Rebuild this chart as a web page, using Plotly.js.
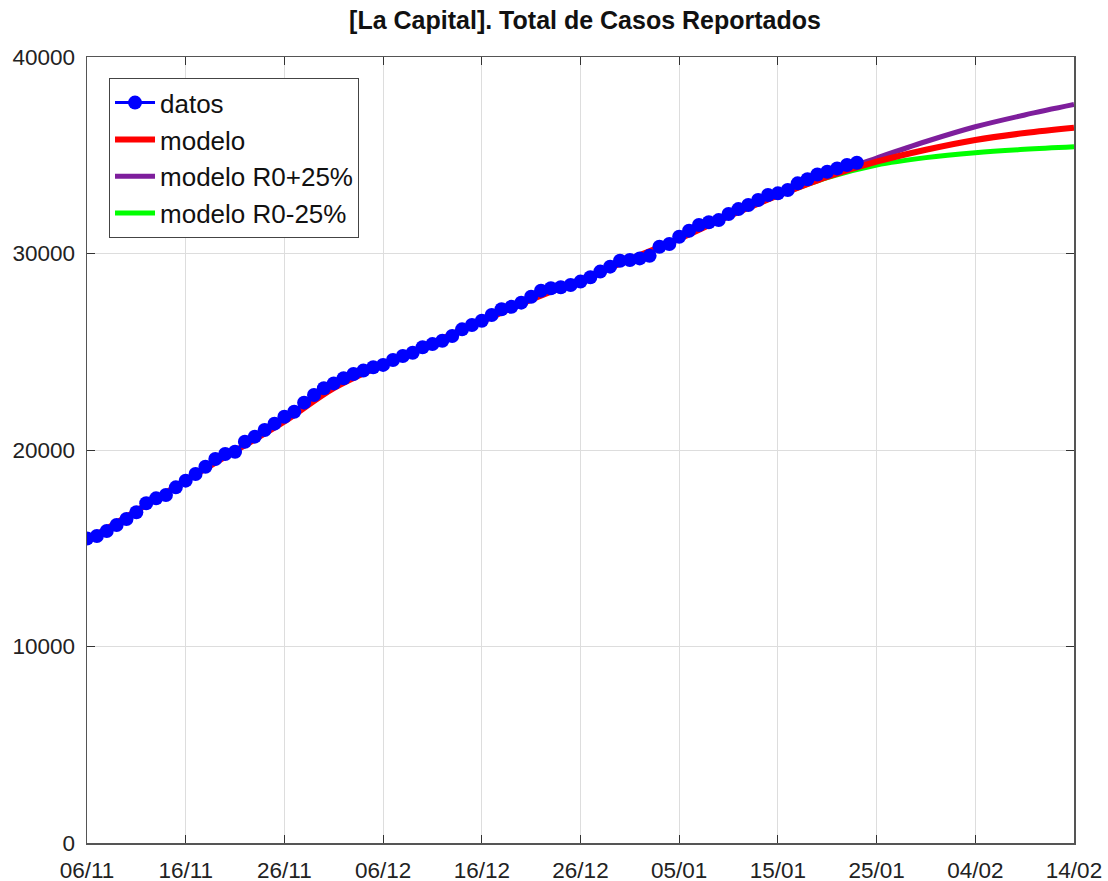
<!DOCTYPE html>
<html>
<head>
<meta charset="utf-8">
<script src="https://cdn.plot.ly/plotly-3.0.1.min.js"></script>
<style>html,body{margin:0;padding:0;background:#fff;}#chart{width:1108px;height:881px;}</style>
</head>
<body>
<div id="chart"></div>
<script>
// Reported cumulative cases (daily, starting 06/11/2020)
const startDate = '2020-11-06';
const datosValues = [
  15500, 15620, 15880, 16180, 16490, 16830, 17290, 17540, 17710, 18100,
  18440, 18780, 19150, 19540, 19800, 19910, 20420, 20680, 21020, 21340,
  21690, 21950, 22410, 22800, 23140, 23390, 23650, 23870, 24040, 24210,
  24330, 24580, 24780, 24950, 25230, 25390, 25560, 25800, 26140, 26360,
  26580, 26870, 27160, 27290, 27500, 27800, 28110, 28230, 28280, 28400,
  28570, 28790, 29080, 29330, 29630, 29670, 29750, 29880, 30340, 30480,
  30850, 31160, 31450, 31590, 31700, 32010, 32260, 32470, 32720, 32980,
  33060, 33230, 33570, 33780, 34020, 34160, 34330, 34500, 34620
];
// Model curves sampled every 5 days (day offsets from start)
const modelDays = [0,5,10,15,20,25,30,35,40,45,50,55,60,65,70,75,80,85,90,95,100];
const modeloValues = [15400,16900,18450,19950,21450,23150,24350,25450,26550,27650,28650,29700,30750,31900,32950,33900,34670,35280,35780,36130,36400];
const scenDays = [60,65,70,75,80,85,90,95,100];
const modeloMasValues = [30750,31900,32980,33980,34860,35700,36450,37050,37580];
const modeloMenosValues = [30750,31900,32940,33860,34500,34880,35130,35300,35430];
const tickLabels = ['06/11','16/11','26/11','06/12','16/12','26/12','05/01','15/01','25/01','04/02','14/02'];

function dayToDate(d) {
  const t = new Date(startDate + 'T00:00:00Z');
  t.setUTCDate(t.getUTCDate() + d);
  return t.toISOString().slice(0, 10);
}
const datosDates = datosValues.map((_, i) => dayToDate(i));
const modelDates = modelDays.map(dayToDate);
const scenDates = scenDays.map(dayToDate);
const tickDates = tickLabels.map((_, i) => dayToDate(i * 10));

const FONT = 'Liberation Sans, Arial, sans-serif';

const traces = [
  {x: scenDates, y: modeloMenosValues, name: 'modelo R0-25%', mode: 'lines',
   line: {color: '#00ff00', width: 5, shape: 'spline'}},
  {x: scenDates, y: modeloMasValues, name: 'modelo R0+25%', mode: 'lines',
   line: {color: '#7e1e9c', width: 5, shape: 'spline'}},
  {x: modelDates, y: modeloValues, name: 'modelo', mode: 'lines',
   line: {color: '#ff0000', width: 6, shape: 'spline'}},
  {x: datosDates, y: datosValues, name: 'datos', mode: 'lines+markers',
   line: {color: '#0000ff', width: 3}, marker: {color: '#0000ff', size: 14}}
];

const axisCommon = {
  showline: true, mirror: 'ticks', linecolor: '#555', linewidth: 1.5,
  ticks: 'inside', ticklen: 8, tickcolor: '#333', tickwidth: 1,
  showgrid: true, gridcolor: '#dddddd', gridwidth: 1, zeroline: false,
  tickfont: {family: FONT, size: 22.5, color: '#222'}
};

const layout = {
  width: 1108, height: 881,
  margin: {l: 87, r: 34, t: 57, b: 38},
  paper_bgcolor: '#fff', plot_bgcolor: '#fff',
  title: {text: '<b>[La Capital]. Total de Casos Reportados</b>', x: 0.528, xanchor: 'center', y: 0.977, yanchor: 'middle',
          font: {family: FONT, size: 25, color: '#111'}},
  xaxis: Object.assign({}, axisCommon, {
    type: 'date', range: [dayToDate(0), dayToDate(100)],
    tickvals: tickDates, ticktext: tickLabels, ticklabelstandoff: 6
  }),
  yaxis: Object.assign({}, axisCommon, {
    range: [0, 40000], tickvals: [0, 10000, 20000, 30000, 40000],
    ticktext: ['0', '10000', '20000', '30000', '40000'], ticklabelstandoff: 6
  }),
  showlegend: true,
  legend: {
    x: 0.0223, y: 0.973, xanchor: 'left', yanchor: 'top',
    bgcolor: '#fff', bordercolor: '#444', borderwidth: 1,
    font: {family: FONT, size: 26, color: '#111'},
    traceorder: 'reversed', itemwidth: 40
  }
};

Plotly.newPlot('chart', traces, layout, {displayModeBar: false, staticPlot: true});
</script>
</body>
</html>
